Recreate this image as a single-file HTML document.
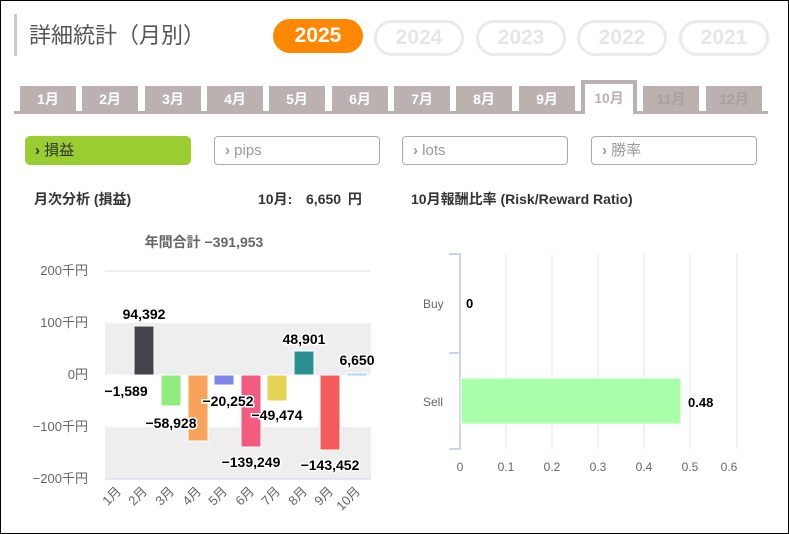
<!DOCTYPE html>
<html><head><meta charset="utf-8"><style>
body{margin:0;width:789px;height:534px;position:relative;background:#fff;font-family:"Liberation Sans","Noto Sans CJK JP",sans-serif;overflow:hidden}
.frame{position:absolute;left:0;top:0;width:787px;height:532px;border:1px solid #000}
.a{position:absolute}
.pill{position:absolute;top:20px;width:84px;height:30px;border:3px solid #eaeaea;border-radius:18px;color:#e6e6e6;font-weight:bold;font-size:21px;text-align:center;line-height:30px}
.tab{position:absolute;top:86px;width:56px;height:27px;background:#bab1b0;color:#fff;font-weight:bold;font-size:14px;text-align:center;line-height:27px}
.btn{position:absolute;top:136px;width:166px;height:29px;border:1px solid #aaa;border-radius:4px;box-sizing:border-box;font-size:15px;line-height:27px;color:#999;padding-left:10px}
</style></head><body>
<div class="frame"></div>
<div class="a" style="left:14px;top:14px;width:3px;height:42px;background:#ccc"></div>
<div class="a" style="left:29px;top:18px;font-size:22px;color:#555">詳細統計（月別）</div>
<div class="pill" style="left:273px;top:19px;width:90px;height:34px;border:none;background:#ff8800;color:#fff;line-height:34px">2025</div>
<div class="pill" style="left:374px">2024</div>
<div class="pill" style="left:476px">2023</div>
<div class="pill" style="left:577px">2022</div>
<div class="pill" style="left:679px">2021</div>
<div class="a" style="left:14px;top:111px;width:754px;height:3px;background:#bab1b0"></div>
<div class="tab" style="left:20px">1月</div>
<div class="tab" style="left:82px">2月</div>
<div class="tab" style="left:145px">3月</div>
<div class="tab" style="left:207px">4月</div>
<div class="tab" style="left:269px">5月</div>
<div class="tab" style="left:332px">6月</div>
<div class="tab" style="left:394px">7月</div>
<div class="tab" style="left:456px">8月</div>
<div class="tab" style="left:519px">9月</div>
<div class="tab" style="left:581px;top:80px;height:34px;background:#fff;border:4px solid #bab1b0;border-bottom:none;box-sizing:border-box;width:56px;color:#bab1b0;line-height:28px">10月</div>
<div class="tab" style="left:643px;color:#a9a09f">11月</div>
<div class="tab" style="left:706px;color:#a9a09f">12月</div>
<div class="btn" style="left:25px;border:none;background:#9acd32;color:#333;line-height:29px;border-radius:5px"><b>›</b> 損益</div>
<div class="btn" style="left:214px"><b>›</b> pips</div>
<div class="btn" style="left:402px"><b>›</b> lots</div>
<div class="btn" style="left:591px"><b>›</b> 勝率</div>
<div class="a" style="left:34px;top:189px;font-size:14px;font-weight:bold;color:#333">月次分析 (損益)</div>
<div class="a" style="left:258px;top:189px;font-size:14px;font-weight:bold;color:#333;word-spacing:3px">10月:&nbsp; 6,650 円</div>
<div class="a" style="left:411px;top:189px;font-size:14px;font-weight:bold;color:#333">10月報酬比率 (Risk/Reward Ratio)</div>
<svg class="a" style="left:0;top:0" width="789" height="534" font-family="Liberation Sans,Noto Sans CJK JP,sans-serif">
<text x="204" y="247" text-anchor="middle" font-size="14" font-weight="bold" fill="#666">年間合計 −391,953</text>
<rect x="105" y="323" width="266" height="52" fill="#eee"/>
<rect x="105" y="427" width="266" height="52" fill="#eee"/>
<line x1="105" y1="271" x2="371" y2="271" stroke="#eee" stroke-width="2"/>
<line x1="105" y1="479" x2="371" y2="479" stroke="#ccd6eb" stroke-width="1"/>
<g font-size="13" fill="#666" text-anchor="end">
<text x="88" y="275">200千円</text><text x="88" y="327">100千円</text><text x="88" y="379">0円</text><text x="88" y="431">−100千円</text><text x="88" y="483">−200千円</text></g>
<g stroke="#fff" stroke-width="1">
<rect x="108" y="375" width="19" height="1" fill="#7cb5ec"/>
<rect x="134" y="326" width="20" height="49" fill="#434348"/>
<rect x="161" y="375" width="20" height="31" fill="#90ed7d"/>
<rect x="188" y="375" width="20" height="66" fill="#f7a35c"/>
<rect x="214" y="375" width="20" height="10" fill="#8085e9"/>
<rect x="241" y="375" width="20" height="72" fill="#f15c80"/>
<rect x="267" y="375" width="20" height="26" fill="#e4d354"/>
<rect x="294" y="351" width="20" height="24" fill="#2b908f"/>
<rect x="320" y="375" width="20" height="75" fill="#f45b5b"/>
<rect x="347" y="373" width="20" height="3" fill="#a8d8f8"/>
</g>
<g font-size="14" font-weight="bold" fill="#000" text-anchor="middle" stroke="#fff" stroke-width="3" paint-order="stroke">
<text x="126" y="396">−1,589</text><text x="144" y="319">94,392</text><text x="171" y="428">−58,928</text>
<text x="228" y="406">−20,252</text><text x="251" y="467">−139,249</text><text x="277" y="420">−49,474</text>
<text x="304" y="344">48,901</text><text x="330" y="470">−143,452</text><text x="357" y="365">6,650</text></g>
<g font-size="13" fill="#666" text-anchor="end">
<text transform="translate(122,492) rotate(-45)">1月</text><text transform="translate(148,492) rotate(-45)">2月</text>
<text transform="translate(175,492) rotate(-45)">3月</text><text transform="translate(202,492) rotate(-45)">4月</text>
<text transform="translate(228,492) rotate(-45)">5月</text><text transform="translate(255,492) rotate(-45)">6月</text>
<text transform="translate(281,492) rotate(-45)">7月</text><text transform="translate(308,492) rotate(-45)">8月</text>
<text transform="translate(334,492) rotate(-45)">9月</text><text transform="translate(361,492) rotate(-45)">10月</text></g>
<g stroke="#e6e6e6" stroke-width="1">
<line x1="506" y1="254" x2="506" y2="449"/><line x1="552" y1="254" x2="552" y2="449"/><line x1="598" y1="254" x2="598" y2="449"/>
<line x1="644" y1="254" x2="644" y2="449"/><line x1="690" y1="254" x2="690" y2="449"/><line x1="737" y1="254" x2="737" y2="449"/></g>
<g stroke="#ccd6eb" stroke-width="2" fill="none"><path d="M449 254H460V449H449M449 353H460"/></g>
<rect x="461" y="378" width="220" height="46" fill="#aaffaa" stroke="#fff"/>
<g font-size="12" fill="#666"><text x="423" y="308">Buy</text><text x="423" y="406">Sell</text>
<g text-anchor="middle"><text x="460" y="471">0</text><text x="506" y="471">0.1</text><text x="552" y="471">0.2</text><text x="598" y="471">0.3</text><text x="644" y="471">0.4</text><text x="690" y="471">0.5</text><text x="729" y="471">0.6</text></g></g>
<g font-size="13" font-weight="bold" fill="#000"><text x="466" y="308">0</text><text x="688" y="407">0.48</text></g>
</svg>
</body></html>
